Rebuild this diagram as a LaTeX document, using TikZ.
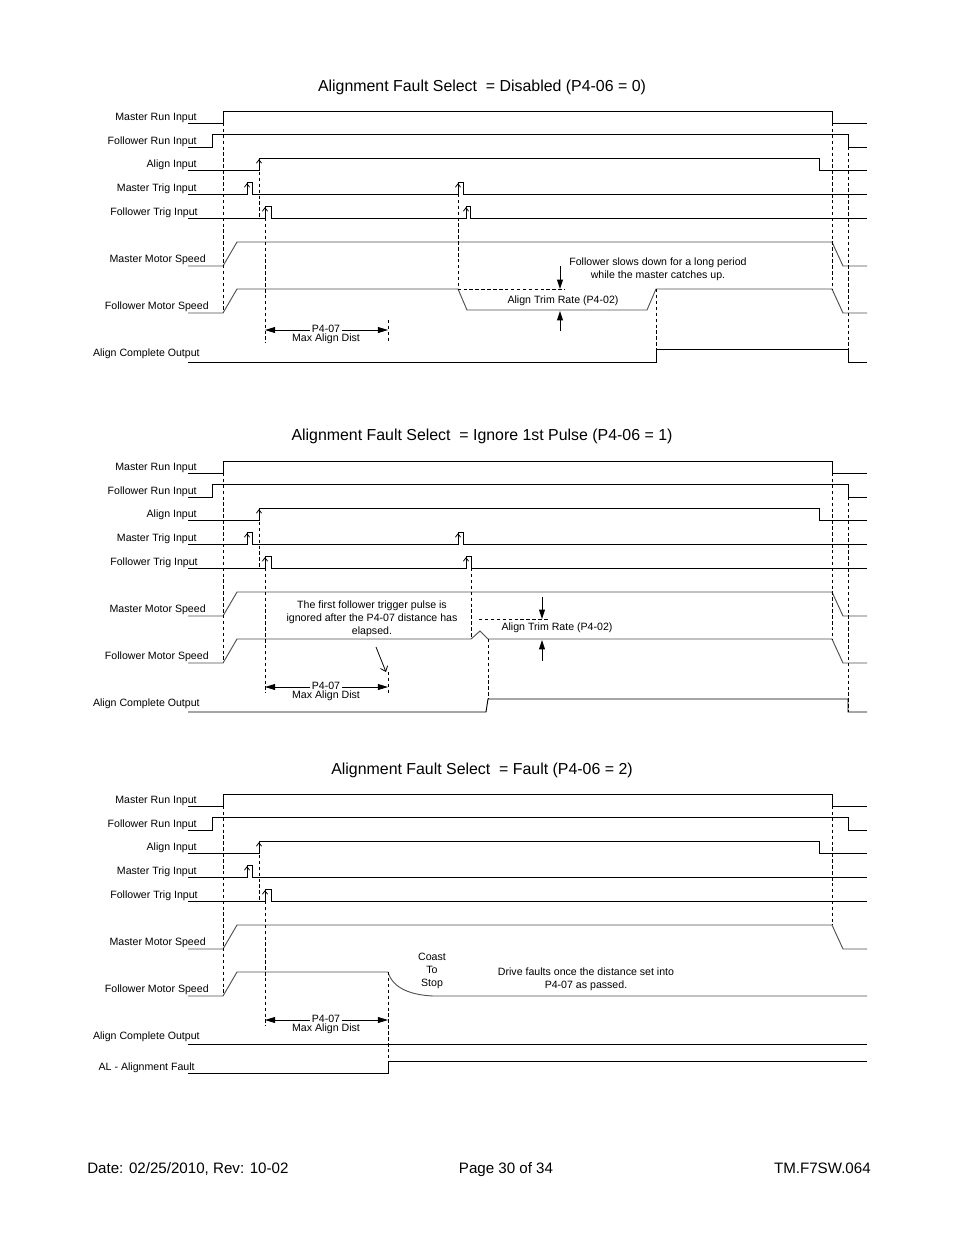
\documentclass[tikz,border=0pt]{standalone}
\usepackage{fontspec}
\setmainfont{Liberation Sans}
\usetikzlibrary{arrows.meta}
\tikzset{
  sig/.style={line width=0.6pt, draw=black},
  spd/.style={line width=0.6pt, draw=black!68},
  dsh/.style={line width=0.5pt, draw=black, dash pattern=on 2.2pt off 1.6pt},
  lab/.style={font=\fontsize{6.8}{8}\selectfont, inner sep=0pt},
  ann/.style={font=\fontsize{6.8}{8.2}\selectfont, inner sep=0pt, align=center},
  ttl/.style={font=\fontsize{10.2}{12}\selectfont, inner sep=0pt},
  foot/.style={font=\fontsize{9.7}{12}\selectfont, inner sep=0pt},
  dimarr/.style={line width=0.6pt, {Triangle[length=6.5pt,width=3.8pt]}-{Triangle[length=6.5pt,width=3.8pt]}},
  darr/.style={line width=0.6pt, -{Triangle[length=6pt,width=3.8pt]}},
  edgehead/.style={line width=0.5pt},
}
\newcommand{\tup}[2]{\draw[edgehead] (#1-2.6,#2+5.2) -- (#1,#2+1.8) -- (#1+2.6,#2+5.2);}
\newcommand{\commonlanes}[1]{%
  \node[lab,anchor=base east] (mr#1) at (197,120) {Master Run Input};
  \node[lab,anchor=base east] (fr#1) at (197,144) {Follower Run Input};
  \node[lab,anchor=base east] (ai#1) at (197,167) {Align Input};
  \node[lab,anchor=base east] (mt#1) at (197,191) {Master Trig Input};
  \node[lab,anchor=base east] (ft#1) at (198,215) {Follower Trig Input};
  \node[lab,anchor=base east] (mms#1) at (206,262) {Master Motor Speed};
  \node[lab,anchor=base east] (fms#1) at (209,309) {Follower Motor Speed};
  \node[lab,anchor=base east] (aco#1) at (200,356) {Align Complete Output};
  \draw[sig] (188,123) -- (223,123) -- (223,111) -- (832,111) -- (832,123) -- (867,123);
  \draw[sig] (188,147) -- (212,147) -- (212,134) -- (848,134) -- (848,147) -- (867,147);
  \draw[sig] (188,170) -- (259,170) -- (259,158) -- (819,158) -- (819,170) -- (867,170);
  \tup{259}{158}
  \draw[spd] (188,266) -- (223,266) -- (237,242) -- (832,242) -- (843,266) -- (867,266);
  \draw[dsh] (223,111) -- (223,313);
  \draw[dsh] (259,160) -- (259,218);
  \tup{247}{182}
  \tup{265}{206}
}
\begin{document}
\begin{tikzpicture}[x=0.6415pt,y=-0.6415pt]
\useasboundingbox (0,0) rectangle (954,1235);
\fill[white] (0,0) rectangle (954,1235);

%================ Diagram 1 =================
\node[ttl] (t1) at (482,87) {Alignment Fault Select~ = Disabled (P4-06 = 0)};
\begin{scope}
  \commonlanes{a}
  \draw[sig] (188,194) -- (247,194) -- (247,182) -- (252,182) -- (252,194) -- (458,194) -- (458,182) -- (463,182) -- (463,194) -- (867,194);
  \draw[sig] (188,218) -- (265,218) -- (265,206) -- (271,206) -- (271,218) -- (466,218) -- (466,206) -- (470,206) -- (470,218) -- (867,218);
  \tup{458}{182}
  \tup{466}{206}
  \draw[spd] (188,313) -- (223,313) -- (237,289) -- (458,289) -- (467,310) -- (647,310) -- (656,289) -- (832,289) -- (843,313) -- (867,313);
  \draw[sig] (188,362) -- (656,362) -- (656,349) -- (848,349) -- (848,362) -- (867,362);
  \draw[dsh] (265,218) -- (265,343);
  \draw[dsh] (388,320) -- (388,343);
  \draw[dsh] (458,182) -- (458,289) -- (565,289);
  \draw[dsh] (656,289) -- (656,349);
  \draw[dsh] (832,123) -- (832,289);
  \draw[dsh] (848,147) -- (848,362);
  \coordinate (da1) at (265,330);
  \coordinate (db1) at (388,330);
  \draw[dimarr] (da1) -- (db1);
  \node[lab,fill=white,inner xsep=1.5pt] (p1) at (326,329) {P4-07};
  \node[lab] (m1) at (326,339) {Max Align Dist};
  \coordinate (ta1) at (560,266);
  \coordinate (tb1) at (560,289);
  \coordinate (tc1) at (560,331);
  \coordinate (td1) at (560,311);
  \draw[darr] (ta1) -- (tb1);
  \draw[darr] (tc1) -- (td1);
  \node[ann] (n1) at (658,269) {Follower slows down for a long period\\while the master catches up.};
  \node[lab] (r1) at (563,301) {Align Trim Rate (P4-02)};
\end{scope}

%================ Diagram 2 =================
\node[ttl] (t2) at (482,436) {Alignment Fault Select~ = Ignore 1st Pulse (P4-06 = 1)};
\begin{scope}[shift={(0,350)}]
  \commonlanes{b}
  \draw[sig] (188,194) -- (247,194) -- (247,182) -- (252,182) -- (252,194) -- (458,194) -- (458,182) -- (463,182) -- (463,194) -- (867,194);
  \draw[sig] (188,218) -- (265,218) -- (265,206) -- (271,206) -- (271,218) -- (466,218) -- (466,206) -- (471,206) -- (471,218) -- (867,218);
  \tup{458}{182}
  \tup{466}{206}
  \draw[spd] (188,313) -- (223,313) -- (237,289) -- (471,289) -- (480,281) -- (488,289) -- (832,289) -- (843,313) -- (867,313);
  \draw[sig] (188,362) -- (486,362) -- (488,349) -- (848,349) -- (848,362) -- (867,362);
  \draw[dsh] (265,218) -- (265,343);
  \draw[dsh] (388,322) -- (388,345);
  \draw[dsh] (471,218) -- (471,289);
  \draw[dsh] (488,289) -- (488,349);
  \draw[dsh] (479,269) -- (550,269);
  \draw[dsh] (832,123) -- (832,289);
  \draw[dsh] (848,147) -- (848,362);
  \coordinate (da2) at (265,337);
  \coordinate (db2) at (388,337);
  \draw[dimarr] (da2) -- (db2);
  \node[lab,fill=white,inner xsep=1.5pt] (p2) at (326,336) {P4-07};
  \node[lab] (m2) at (326,346) {Max Align Dist};
  \coordinate (ta2) at (542,247);
  \coordinate (tb2) at (542,269);
  \coordinate (tc2) at (542,311);
  \coordinate (td2) at (542,290);
  \draw[darr] (ta2) -- (tb2);
  \draw[darr] (tc2) -- (td2);
  \node[lab] (r2) at (557,278) {Align Trim Rate (P4-02)};
  \node[ann] (n2) at (372,269) {The first follower trigger pulse is\\ignored after the P4-07 distance has\\elapsed.};
  \coordinate (ea2) at (376,297);
  \coordinate (eb2) at (386,322);
  \draw[line width=0.5pt,-{Straight Barb[length=3pt,width=5pt]}] (ea2) -- (eb2);
\end{scope}

%================ Diagram 3 =================
\node[ttl] (t3) at (482,770) {Alignment Fault Select~ = Fault (P4-06 = 2)};
\begin{scope}[shift={(0,683)}]
  \commonlanes{c}
  \node[lab,anchor=base east] (al3) at (195,387) {AL - Alignment Fault};
  \draw[sig] (188,194) -- (247,194) -- (247,182) -- (252,182) -- (252,194) -- (867,194);
  \draw[sig] (188,218) -- (265,218) -- (265,206) -- (271,206) -- (271,218) -- (867,218);
  \draw[spd] (188,313) -- (223,313) -- (237,289) -- (388,289) .. controls (393,306) and (412,312) .. (433,313) -- (867,313);
  \draw[sig] (188,361) -- (867,361);
  \draw[sig] (188,390) -- (388,390) -- (388,378) -- (867,378);
  \draw[dsh] (265,218) -- (265,343);
  \draw[dsh] (388,289) -- (388,378);
  \draw[dsh] (832,123) -- (832,242);
  \coordinate (da3) at (265,337);
  \coordinate (db3) at (388,337);
  \draw[dimarr] (da3) -- (db3);
  \node[lab,fill=white,inner xsep=1.5pt] (p3) at (326,336) {P4-07};
  \node[lab] (m3) at (326,346) {Max Align Dist};
  \node[ann] (c3) at (432,288) {Coast\\To\\Stop};
  \node[ann] (n3) at (586,296) {Drive faults once the distance set into\\P4-07 as passed.};
\end{scope}

%================ Footer =================
\node[foot,anchor=base west] (f1) at (87,1173) {Date: 02/25/2010, Rev: 10-02};
\node[foot,anchor=base] (f2) at (506,1173) {Page 30 of 34};
\node[foot,anchor=base east] (f3) at (871,1173) {TM.F7SW.064};
\end{tikzpicture}
\end{document}
